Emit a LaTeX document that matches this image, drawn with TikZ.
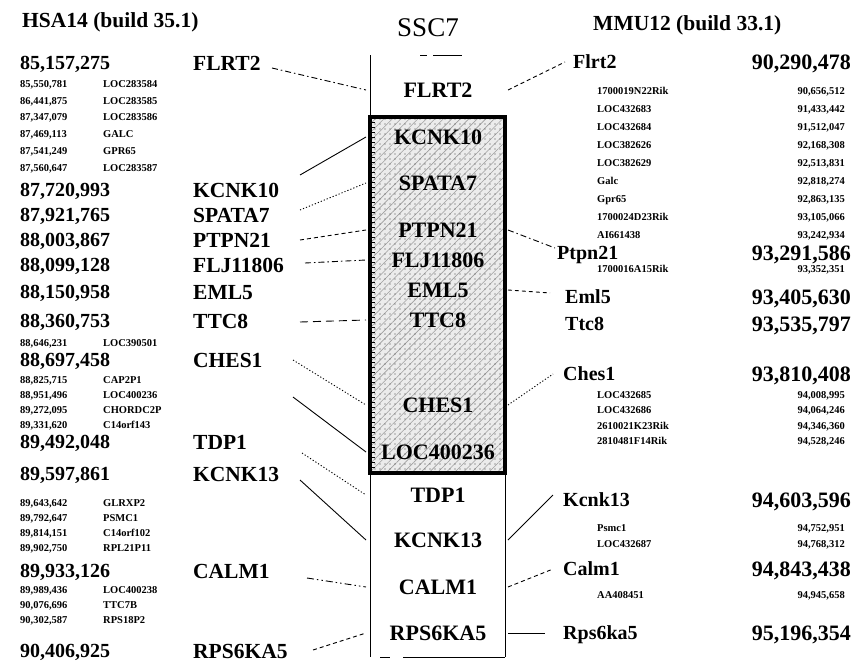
\documentclass[tikz,border=0pt]{standalone}
\usepackage{fontspec}
\setmainfont{Liberation Serif}
\usetikzlibrary{positioning,calc,patterns.meta}
\tikzset{
  txt/.style={inner sep=0pt,text depth=0pt},
  head/.style={txt,anchor=west,text height=14.2pt,font=\fontsize{21.5}{23}\selectfont\bfseries},
  num/.style={txt,anchor=west,text height=13.2pt,font=\fontsize{20}{22}\selectfont\bfseries},
  rnum/.style={txt,anchor=east,text height=14.5pt,font=\fontsize{22}{24}\selectfont\bfseries},
  gene/.style={txt,anchor=west,text height=14.2pt,font=\fontsize{21.5}{23}\selectfont\bfseries},
  rgene/.style={txt,anchor=west,text height=13.2pt,font=\fontsize{20}{22}\selectfont\bfseries},
  snum/.style={txt,anchor=west,text height=6.9pt,font=\fontsize{10.5}{12}\selectfont\bfseries},
  rsnum/.style={txt,anchor=east,text height=6.9pt,font=\fontsize{10.5}{12}\selectfont\bfseries},
  sgene/.style={txt,anchor=west,text height=6.9pt,font=\fontsize{10.5}{12}\selectfont\bfseries},
  chrgene/.style={txt,text height=14.5pt,font=\fontsize{22}{24}\selectfont\bfseries},
  link/.style={line width=0.9pt},
  dotln/.style={link,dash pattern=on 1.2pt off 2pt},
  dashln/.style={link,dash pattern=on 4pt off 3pt},
  longdash/.style={link,dash pattern=on 8pt off 5pt},
  dashdotln/.style={link,dash pattern=on 6pt off 3pt on 1.5pt off 3pt},
  dashdotdot/.style={link,dash pattern=on 7pt off 3pt on 1.5pt off 3pt on 1.5pt off 3pt}
}

\begin{document}
\begin{tikzpicture}[x=1pt,y=-1pt]
\useasboundingbox (0,0) rectangle (854,664);

% headers
\node[head] (hsa) at (22,20) {HSA14 (build 35.1)};
\node[txt,text height=17.8pt,font=\fontsize{27}{29}\selectfont] (ssc) at (428,28) {SSC7};
\node[head] (mmu) at (593,23) {MMU12 (build 33.1)};

% chromosome
\fill[gray!15] (370,117) rectangle (505,473);
\fill[pattern={Lines[angle=45,distance=6pt,line width=0.6pt]},pattern color=gray!75] (370,117) rectangle (505,473);
\fill[pattern={Dots[distance=5pt,radius=0.55pt]},pattern color=black!70] (370,117) rectangle (505,473);
\foreach \y in {122,127,...,468} \draw[line width=0.5pt] (371,\y) -- (375,\y);
\draw[line width=0.9pt] (370,55) -- (370,657);
\draw[line width=0.9pt] (505,117) -- (505,657);
\draw[line width=0.9pt,dash pattern=on 10pt off 13pt on 110pt] (380,657) -- (505,657);
\draw[line width=0.9pt,dash pattern=on 7pt off 6pt on 30pt] (420,55) -- (462,55);
\draw[line width=3.5pt] (370,117) rectangle (505,473);
\coordinate (chrL) at (366,0);
\coordinate (chrR) at (508,0);

\node[chrgene] (c-flrt2) at (438,90) {FLRT2};
\node[chrgene] (c-kcnk10) at (438,137) {KCNK10};
\node[chrgene] (c-spata7) at (438,183) {SPATA7};
\node[chrgene] (c-ptpn21) at (438,230) {PTPN21};
\node[chrgene] (c-flj11806) at (438,260) {FLJ11806};
\node[chrgene] (c-eml5) at (438,290) {EML5};
\node[chrgene] (c-ttc8) at (438,320) {TTC8};
\node[chrgene] (c-ches1) at (438,405) {CHES1};
\node[chrgene] (c-loc400236) at (438,452) {LOC400236};
\node[chrgene] (c-tdp1) at (438,495) {TDP1};
\node[chrgene] (c-kcnk13) at (438,540) {KCNK13};
\node[chrgene] (c-calm1) at (438,587) {CALM1};
\node[chrgene] (c-rps6ka5) at (438,633) {RPS6KA5};

% human side
\node[num] (ln-flrt2) at (20,63) {85,157,275};
\node[gene] (l-flrt2) at (193,63) {FLRT2};
\node[snum] (ln-loc283584) at (20,84) {85,550,781};
\node[sgene] (l-loc283584) at (103,84) {LOC283584};
\node[snum] (ln-loc283585) at (20,101) {86,441,875};
\node[sgene] (l-loc283585) at (103,101) {LOC283585};
\node[snum] (ln-loc283586) at (20,117) {87,347,079};
\node[sgene] (l-loc283586) at (103,117) {LOC283586};
\node[snum] (ln-galc) at (20,134) {87,469,113};
\node[sgene] (l-galc) at (103,134) {GALC};
\node[snum] (ln-gpr65) at (20,151) {87,541,249};
\node[sgene] (l-gpr65) at (103,151) {GPR65};
\node[snum] (ln-loc283587) at (20,168) {87,560,647};
\node[sgene] (l-loc283587) at (103,168) {LOC283587};
\node[num] (ln-kcnk10) at (20,190) {87,720,993};
\node[gene] (l-kcnk10) at (193,190) {KCNK10};
\node[num] (ln-spata7) at (20,215) {87,921,765};
\node[gene] (l-spata7) at (193,215) {SPATA7};
\node[num] (ln-ptpn21) at (20,240) {88,003,867};
\node[gene] (l-ptpn21) at (193,240) {PTPN21};
\node[num] (ln-flj11806) at (20,265) {88,099,128};
\node[gene] (l-flj11806) at (193,265) {FLJ11806};
\node[num] (ln-eml5) at (20,292) {88,150,958};
\node[gene] (l-eml5) at (193,292) {EML5};
\node[num] (ln-ttc8) at (20,321) {88,360,753};
\node[gene] (l-ttc8) at (193,321) {TTC8};
\node[snum] (ln-loc390501) at (20,343) {88,646,231};
\node[sgene] (l-loc390501) at (103,343) {LOC390501};
\node[num] (ln-ches1) at (20,360) {88,697,458};
\node[gene] (l-ches1) at (193,360) {CHES1};
\node[snum] (ln-cap2p1) at (20,380) {88,825,715};
\node[sgene] (l-cap2p1) at (103,380) {CAP2P1};
\node[snum] (ln-loc400236) at (20,395) {88,951,496};
\node[sgene] (l-loc400236) at (103,395) {LOC400236};
\node[snum] (ln-chordc2p) at (20,410) {89,272,095};
\node[sgene] (l-chordc2p) at (103,410) {CHORDC2P};
\node[snum] (ln-c14orf143) at (20,425) {89,331,620};
\node[sgene] (l-c14orf143) at (103,425) {C14orf143};
\node[num] (ln-tdp1) at (20,442) {89,492,048};
\node[gene] (l-tdp1) at (193,442) {TDP1};
\node[num] (ln-kcnk13) at (20,474) {89,597,861};
\node[gene] (l-kcnk13) at (193,474) {KCNK13};
\node[snum] (ln-glrxp2) at (20,503) {89,643,642};
\node[sgene] (l-glrxp2) at (103,503) {GLRXP2};
\node[snum] (ln-psmc1) at (20,518) {89,792,647};
\node[sgene] (l-psmc1) at (103,518) {PSMC1};
\node[snum] (ln-c14orf102) at (20,533) {89,814,151};
\node[sgene] (l-c14orf102) at (103,533) {C14orf102};
\node[snum] (ln-rpl21p11) at (20,548) {89,902,750};
\node[sgene] (l-rpl21p11) at (103,548) {RPL21P11};
\node[num] (ln-calm1) at (20,571) {89,933,126};
\node[gene] (l-calm1) at (193,571) {CALM1};
\node[snum] (ln-loc400238) at (20,590) {89,989,436};
\node[sgene] (l-loc400238) at (103,590) {LOC400238};
\node[snum] (ln-ttc7b) at (20,605) {90,076,696};
\node[sgene] (l-ttc7b) at (103,605) {TTC7B};
\node[snum] (ln-rps18p2) at (20,620) {90,302,587};
\node[sgene] (l-rps18p2) at (103,620) {RPS18P2};
\node[num] (ln-rps6ka5) at (20,651) {90,406,925};
\node[gene] (l-rps6ka5) at (193,651) {RPS6KA5};

% mouse side
\node[rgene] (r-flrt2) at (573,62) {Flrt2};
\node[rnum] (rn-flrt2) at (851,62) {90,290,478};
\node[sgene] (r-1700019n22rik) at (597,91) {1700019N22Rik};
\node[rsnum] (rn-1700019n22rik) at (845,91) {90,656,512};
\node[sgene] (r-loc432683) at (597,109) {LOC432683};
\node[rsnum] (rn-loc432683) at (845,109) {91,433,442};
\node[sgene] (r-loc432684) at (597,127) {LOC432684};
\node[rsnum] (rn-loc432684) at (845,127) {91,512,047};
\node[sgene] (r-loc382626) at (597,145) {LOC382626};
\node[rsnum] (rn-loc382626) at (845,145) {92,168,308};
\node[sgene] (r-loc382629) at (597,163) {LOC382629};
\node[rsnum] (rn-loc382629) at (845,163) {92,513,831};
\node[sgene] (r-galc) at (597,181) {Galc};
\node[rsnum] (rn-galc) at (845,181) {92,818,274};
\node[sgene] (r-gpr65) at (597,199) {Gpr65};
\node[rsnum] (rn-gpr65) at (845,199) {92,863,135};
\node[sgene] (r-1700024d23rik) at (597,217) {1700024D23Rik};
\node[rsnum] (rn-1700024d23rik) at (845,217) {93,105,066};
\node[sgene] (r-ai661438) at (597,235) {AI661438};
\node[rsnum] (rn-ai661438) at (845,235) {93,242,934};
\node[rgene] (r-ptpn21) at (557,253) {Ptpn21};
\node[rnum] (rn-ptpn21) at (851,253) {93,291,586};
\node[sgene] (r-1700016a15rik) at (597,269) {1700016A15Rik};
\node[rsnum] (rn-1700016a15rik) at (845,269) {93,352,351};
\node[rgene] (r-eml5) at (565,297) {Eml5};
\node[rnum] (rn-eml5) at (851,297) {93,405,630};
\node[rgene] (r-ttc8) at (565,324) {Ttc8};
\node[rnum] (rn-ttc8) at (851,324) {93,535,797};
\node[rgene] (r-ches1) at (563,374) {Ches1};
\node[rnum] (rn-ches1) at (851,374) {93,810,408};
\node[sgene] (r-loc432685) at (597,395) {LOC432685};
\node[rsnum] (rn-loc432685) at (845,395) {94,008,995};
\node[sgene] (r-loc432686) at (597,410) {LOC432686};
\node[rsnum] (rn-loc432686) at (845,410) {94,064,246};
\node[sgene] (r-2610021k23rik) at (597,426) {2610021K23Rik};
\node[rsnum] (rn-2610021k23rik) at (845,426) {94,346,360};
\node[sgene] (r-2810481f14rik) at (597,441) {2810481F14Rik};
\node[rsnum] (rn-2810481f14rik) at (845,441) {94,528,246};
\node[rgene] (r-kcnk13) at (563,500) {Kcnk13};
\node[rnum] (rn-kcnk13) at (851,500) {94,603,596};
\node[sgene] (r-psmc1) at (597,528) {Psmc1};
\node[rsnum] (rn-psmc1) at (845,528) {94,752,951};
\node[sgene] (r-loc432687) at (597,544) {LOC432687};
\node[rsnum] (rn-loc432687) at (845,544) {94,768,312};
\node[rgene] (r-calm1) at (563,569) {Calm1};
\node[rnum] (rn-calm1) at (851,569) {94,843,438};
\node[sgene] (r-aa408451) at (597,595) {AA408451};
\node[rsnum] (rn-aa408451) at (845,595) {94,945,658};
\node[rgene] (r-rps6ka5) at (563,633) {Rps6ka5};
\node[rnum] (rn-rps6ka5) at (851,633) {95,196,354};

% human links
\draw[dashdotln] ($(l-flrt2.west)+(79,5)$) -- (c-flrt2 -| chrL);
\draw[link] ($(l-kcnk10.west)+(107,-15)$) -- (c-kcnk10 -| chrL);
\draw[dotln] ($(l-spata7.west)+(107,-5)$) -- (c-spata7 -| chrL);
\draw[dashln] ($(l-ptpn21.west)+(107,0)$) -- (c-ptpn21 -| chrL);
\draw[dashdotln] ($(l-flj11806.west)+(112,-2)$) -- (c-flj11806 -| chrL);
\draw[longdash] ($(l-ttc8.west)+(107,1)$) -- (c-ttc8 -| chrL);
\draw[dotln] ($(l-ches1.west)+(100,0)$) -- (c-ches1 -| chrL);
\draw[link] ($(l-loc400236.west)+(190,2)$) -- (c-loc400236 -| chrL);
\draw[dotln] ($(l-tdp1.west)+(109,11)$) -- (c-tdp1 -| chrL);
\draw[link] ($(l-kcnk13.west)+(107,6)$) -- (c-kcnk13 -| chrL);
\draw[dashdotdot] ($(l-calm1.west)+(114,7)$) -- (c-calm1 -| chrL);
\draw[dashln] ($(l-rps6ka5.west)+(120,-1)$) -- (c-rps6ka5 -| chrL);

% mouse links
\draw[dashln] (c-flrt2 -| chrR) -- ($(r-flrt2.west)+(-8,0)$);
\draw[dashdotln] (c-ptpn21 -| chrR) -- ($(r-ptpn21.west)+(-2,-5)$);
\draw[dashln] (c-eml5 -| chrR) -- ($(r-eml5.west)+(-15,-4)$);
\draw[dotln] (c-ches1 -| chrR) -- ($(r-ches1.west)+(-10,0)$);
\draw[link] (c-kcnk13 -| chrR) -- ($(r-kcnk13.west)+(-10,-5)$);
\draw[dashln] (c-calm1 -| chrR) -- ($(r-calm1.west)+(-10,0)$);
\draw[link] (c-rps6ka5 -| chrR) -- ($(r-rps6ka5.west)+(-18,0)$);

\end{tikzpicture}
\end{document}
